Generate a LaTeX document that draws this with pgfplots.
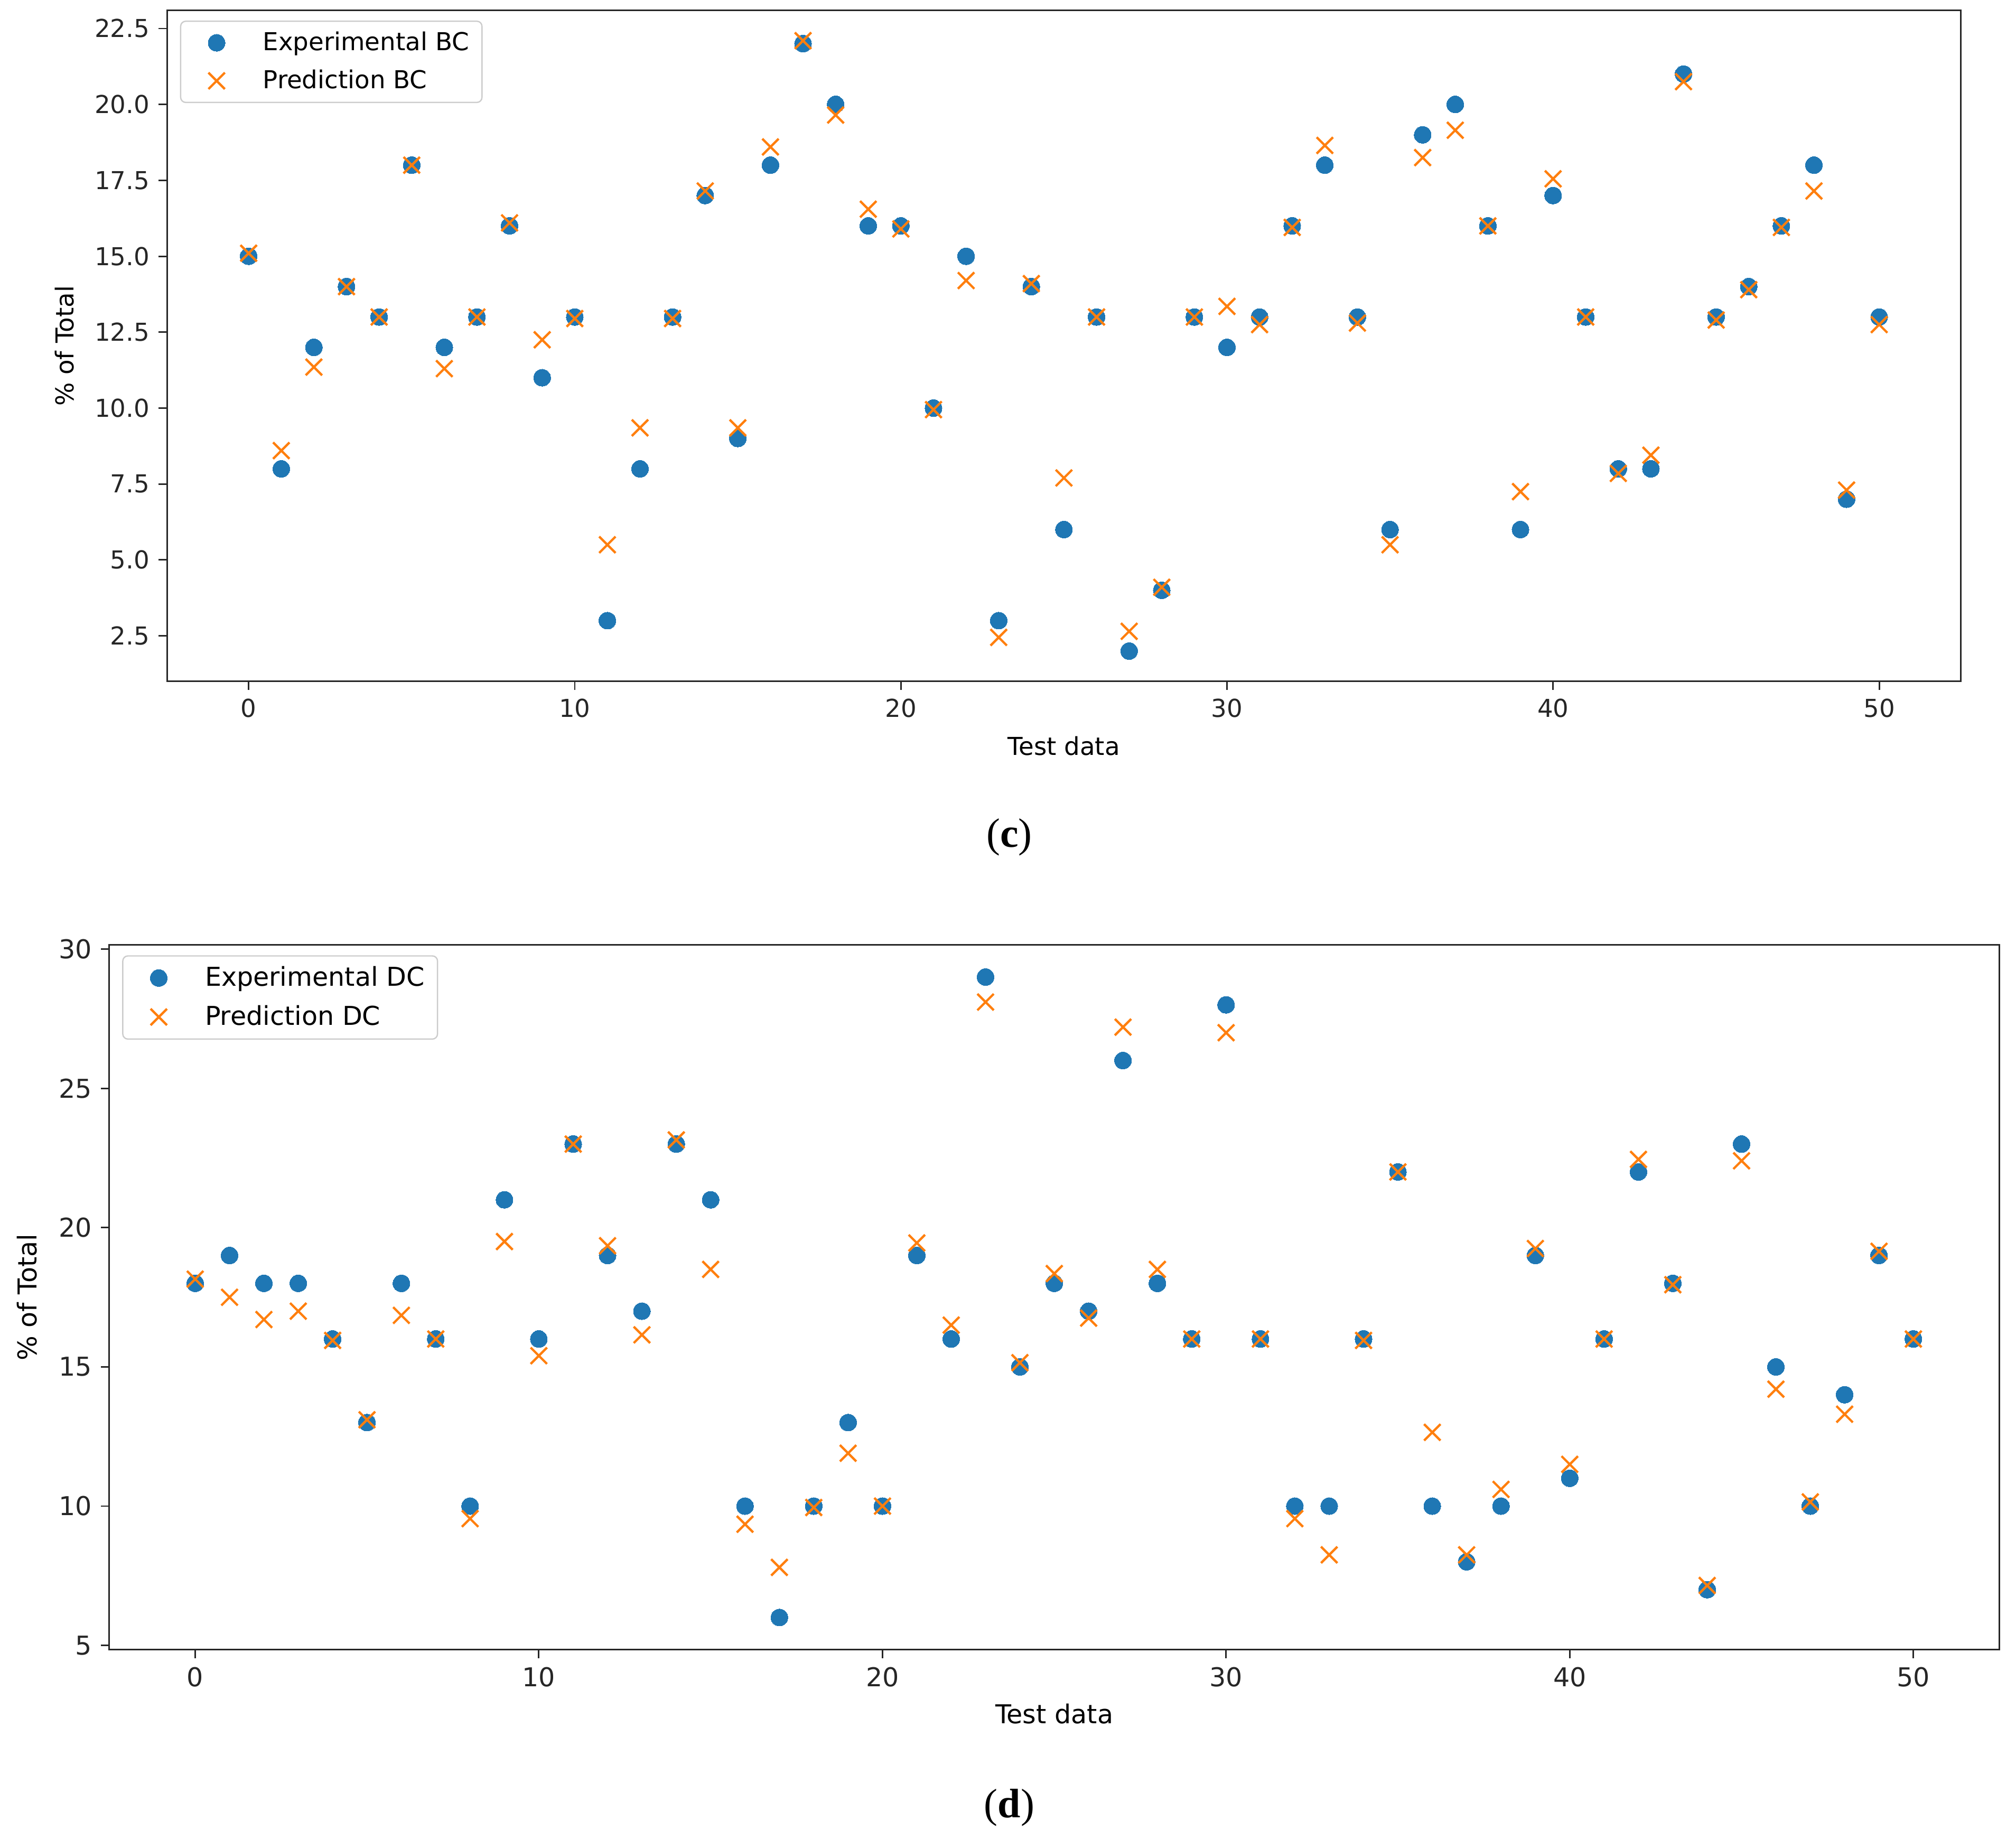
\documentclass[border=0pt]{standalone}
\usepackage{fontspec}
\setmainfont{DejaVu Sans}
\newfontfamily\capfont{Liberation Serif}
\usepackage{pgfplots}
\usepackage{pgfplotstable}
\pgfplotsset{compat=1.18}

\definecolor{mplblue}{HTML}{1F77B4}
\definecolor{mplorange}{HTML}{FF7F0E}
\definecolor{spine}{HTML}{262626}

% test data: index, experimental, predicted
\pgfplotstableread{
x exp pred
0 15 15.1
1 8 8.6
2 12 11.35
3 14 14.0
4 13 13.0
5 18 18.0
6 12 11.3
7 13 13.0
8 16 16.1
9 11 12.25
10 13 12.95
11 3 5.5
12 8 9.35
13 13 12.95
14 17 17.15
15 9 9.35
16 18 18.6
17 22 22.1
18 20 19.65
19 16 16.55
20 16 15.9
21 10 9.95
22 15 14.2
23 3 2.45
24 14 14.1
25 6 7.7
26 13 13.0
27 2 2.65
28 4 4.1
29 13 13.0
30 12 13.35
31 13 12.75
32 16 15.95
33 18 18.65
34 13 12.8
35 6 5.5
36 19 18.25
37 20 19.15
38 16 16.0
39 6 7.25
40 17 17.55
41 13 13.0
42 8 7.85
43 8 8.45
44 21 20.75
45 13 12.9
46 14 13.9
47 16 15.95
48 18 17.15
49 7 7.3
50 13 12.75
}\bcdata

\pgfplotstableread{
x exp pred
0 18 18.15
1 19 17.5
2 18 16.7
3 18 17.0
4 16 15.95
5 13 13.1
6 18 16.85
7 16 16.0
8 10 9.55
9 21 19.5
10 16 15.4
11 23 23.0
12 19 19.35
13 17 16.15
14 23 23.15
15 21 18.5
16 10 9.35
17 6 7.8
18 10 9.95
19 13 11.9
20 10 10.0
21 19 19.45
22 16 16.5
23 29 28.1
24 15 15.15
25 18 18.35
26 17 16.75
27 26 27.2
28 18 18.5
29 16 16.0
30 28 27.0
31 16 16.0
32 10 9.55
33 10 8.25
34 16 15.95
35 22 22.0
36 10 12.65
37 8 8.25
38 10 10.6
39 19 19.25
40 11 11.5
41 16 16.0
42 22 22.45
43 18 17.95
44 7 7.15
45 23 22.4
46 15 14.2
47 10 10.15
48 14 13.3
49 19 19.15
50 16 16.0
}\dcdata

\pgfplotsset{
  mpl/.style={
    scale only axis,
    axis line style={spine, line width=0.6pt},
    tick style={spine, line width=0.6pt},
    tick align=outside,
    major tick length=3.3pt,
    tick pos=left,
    xmin=-2.5, xmax=52.5,
    xtick={0,10,20,30,40,50},
    /pgf/number format/assume math mode=true,
    xlabel={Test data},
    ylabel={\% of Total},
    legend cell align=left,
    legend image code/.code={
      \path[draw=none, fill=none] (0pt,-3pt) rectangle (27pt,3pt);
      \draw[mark repeat=2,mark phase=2,fill opacity=1,draw opacity=1,##1]
        plot coordinates {(0pt,0pt) (11pt,0pt) (27pt,0pt)};
    },
    legend style={
      at={(0,1)}, anchor=north west, xshift=5pt, yshift=-4pt,
      draw=black!20, line width=0.5pt, rounded corners=2pt,
      fill=white, fill opacity=0.8, text opacity=1,
      inner xsep=3pt, inner ysep=2pt, row sep=2pt,
    },
  },
  expmark/.style={only marks, mark=*, mark size=3.3pt,
    mark options={fill=mplblue, draw=mplblue, line width=0pt}},
  predmark/.style={only marks, mark=x, mark size=4.5pt,
    mark options={draw=mplorange, line width=0.9pt}},
}

\begin{document}
\begin{tikzpicture}
\useasboundingbox (0,0) rectangle (784pt,-715.5pt);

% (c) BC
\begin{axis}[mpl,
  at={(65pt,-265pt)}, anchor=south west,
  width=697.5pt, height=261pt,
  ymin=1.0, ymax=23.1,
  ytick={2.5,5,7.5,10,12.5,15,17.5,20,22.5},
  yticklabel style={/pgf/number format/.cd, fixed, fixed zerofill, precision=1},
  tick label style={font=\fontsize{9.6}{11}\selectfont, text=spine},
  label style={font=\fontsize{9.6}{11}\selectfont},
  legend style={font=\fontsize{9.6}{11}\selectfont},
  xlabel style={at={(axis description cs:0.5,-0.096)}, anchor=center},
  ylabel style={at={(axis description cs:-0.0573,0.5)}, anchor=center},
]
\addplot[expmark] table[x=x, y=exp] {\bcdata};
\addplot[predmark] table[x=x, y=pred] {\bcdata};
\legend{Experimental BC, Prediction BC}
\end{axis}

% (d) DC
\begin{axis}[mpl,
  at={(42.5pt,-641.5pt)}, anchor=south west,
  width=735pt, height=274pt,
  ymin=4.85, ymax=30.15,
  ytick={5,10,15,20,25,30},
  tick label style={font=\fontsize{10.1}{12}\selectfont, text=spine},
  label style={font=\fontsize{10.1}{12}\selectfont},
  legend style={font=\fontsize{10.1}{12}\selectfont},
  xlabel style={at={(axis description cs:0.5,-0.091)}, anchor=center},
  ylabel style={at={(axis description cs:-0.0435,0.5)}, anchor=center},
]
\addplot[expmark] table[x=x, y=exp] {\dcdata};
\addplot[predmark] table[x=x, y=pred] {\dcdata};
\legend{Experimental DC, Prediction DC}
\end{axis}

\node[font=\capfont\fontsize{16}{19}\selectfont] at (392.5pt,-325.5pt) {(\textbf{c})};
\node[font=\capfont\fontsize{16}{19}\selectfont] at (392.5pt,-703pt) {(\textbf{d})};
\end{tikzpicture}
\end{document}
